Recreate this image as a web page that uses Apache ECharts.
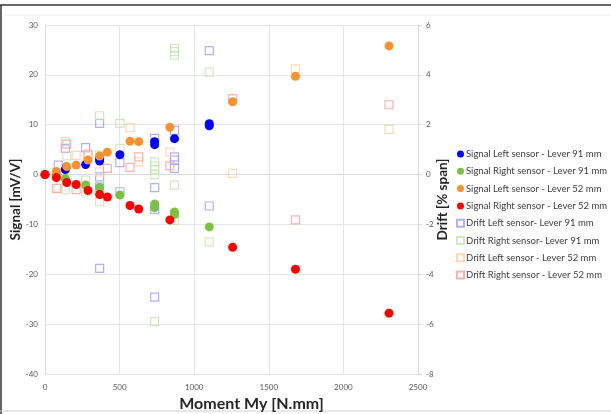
<!DOCTYPE html>
<html><head><meta charset="utf-8">
<script src="https://cdn.jsdelivr.net/npm/echarts@6/dist/echarts.min.js"></script>
<style>html,body{margin:0;padding:0;background:#fff;}#c{width:611px;height:414px;}</style>
</head><body><div id="c"></div>
<script>
// Moment My [N.mm], value pairs
const sigLeft91 = [[0,0],[136,1.0],[143,1.5],[272,2.0],[366,2.7],[366,3.1],[502,4.0],[735,6.0],[735,6.6],[868,7.2],[1101,9.8],[1101,10.2]];
const sigRight91 = [[0,0],[76,-0.2],[136,-0.8],[272,-2.1],[366,-2.6],[502,-4.1],[735,-5.9],[735,-6.6],[868,-7.5],[868,-8.0],[1101,-10.5]];
const sigLeft52 = [[0,0],[76,0.6],[146,1.6],[209,1.9],[288,2.9],[366,3.7],[418,4.5],[570,6.7],[628,6.6],[837,9.5],[1258,14.6],[1679,19.7],[2306,25.8]];
const sigRight52 = [[0,0],[76,-0.6],[146,-1.6],[209,-2.0],[288,-3.2],[366,-4.0],[418,-4.5],[570,-6.2],[628,-6.9],[837,-9.1],[1258,-14.6],[1679,-19.0],[2306,-27.8]];
const driftLeft91 = [[89,0.38],[136,1.05],[272,1.08],[366,2.05],[366,-0.09],[366,-0.49],[366,-3.76],[502,0.48],[502,-0.69],[735,1.45],[735,-0.52],[735,-1.4],[735,-4.92],[868,1.77],[868,0.71],[868,0.58],[868,0.25],[1101,4.97],[1101,-1.26]];
const driftRight91 = [[89,-0.55],[136,1.32],[136,-0.6],[272,-0.22],[272,-0.69],[366,2.36],[366,0.78],[366,-1.09],[502,2.05],[502,1.05],[735,0.51],[735,0.35],[735,0.21],[735,0],[735,-5.9],[868,5.06],[868,4.93],[868,4.79],[868,-0.42],[868,-1.85],[1101,4.11],[1101,-2.7]];
const driftLeft52 = [[76,0.07],[146,0.75],[209,0.77],[288,0.75],[366,0.11],[570,1.88],[628,0.51],[837,0.9],[1258,0.05],[1679,4.24],[2306,1.81]];
const driftRight52 = [[76,-0.55],[146,1.22],[209,-0.6],[288,0.82],[418,0.25],[570,0.29],[628,0.71],[837,0.35],[1258,3.05],[1679,-1.82],[2306,2.8]];

const names = ['Signal Left sensor - Lever 91 mm','Signal Right sensor - Lever 91 mm','Signal Left sensor - Lever 52 mm','Signal Right sensor - Lever 52 mm','Drift Left sensor- Lever 91 mm','Drift Right sensor- Lever 91 mm','Drift Left sensor - Lever 52 mm','Drift Right sensor - Lever 52 mm'];
const fillColors = ['#0000ff','#7cc242','#f7932e','#ff0000'];
const driftColors = ['#9c9cff','#c6e3b0','#fbd0a8','#ff9e9e'];

const FONT = 'Lato';
const chart = echarts.init(document.getElementById('c'));
const sig = [sigLeft91, sigRight91, sigLeft52, sigRight52];
const dr = [driftLeft91, driftRight91, driftLeft52, driftRight52];
const series = [];
sig.forEach((d,i)=>series.push({name:names[i],type:'scatter',yAxisIndex:0,symbol:'circle',symbolSize:9,data:d,itemStyle:{color:fillColors[i],opacity:1},z:3}));
dr.forEach((d,i)=>series.push({name:names[4+i],type:'scatter',yAxisIndex:1,symbol:'rect',symbolSize:8,data:d,itemStyle:{color:'rgba(255,255,255,0)',borderColor:driftColors[i],borderWidth:1.2},z:2}));

chart.setOption({
  animation:false,
  backgroundColor:'#ffffff',
  textStyle:{fontFamily:FONT},
  grid:{left:45,right:193,top:25,bottom:40,containLabel:false,outerBoundsMode:'none'},
  legend:{orient:'vertical',left:451,top:143,itemWidth:7,itemHeight:7,itemGap:5.3,
    textStyle:{fontSize:9.5,color:'#404040',fontFamily:FONT,padding:[0,0,0,-3],lineHeight:12},
    data:names.map((n,i)=>({name:n,icon:i<4?'circle':'rect'}))},
  xAxis:{type:'value',min:0,max:2500,interval:500,
    name:'Moment My [N.mm]',nameLocation:'middle',nameGap:20,
    nameTextStyle:{fontSize:16,fontWeight:'bold',color:'#262626',padding:[0,0,0,40]},
    axisLine:{show:true,lineStyle:{color:'#d9d9d9'}},axisTick:{show:false},
    axisLabel:{fontSize:8,color:'#595959',margin:9,formatter:v=>String(v)},
    splitLine:{show:true,lineStyle:{color:'#e6e6e6'}}},
  yAxis:[{type:'value',min:-40,max:30,interval:10,position:'left',
    name:'Signal [mV/V]',nameLocation:'middle',nameGap:22,nameMoveOverlap:false,
    nameTextStyle:{fontSize:13.5,fontWeight:'bold',color:'#262626'},
    axisLine:{show:true,lineStyle:{color:'#d9d9d9'}},axisTick:{show:false},
    axisLabel:{fontSize:8,color:'#595959',margin:7},
    splitLine:{show:true,lineStyle:{color:'#e6e6e6'}}},
   {type:'value',min:-8,max:6,interval:2,position:'right',
    name:'Drift [% span]',nameLocation:'middle',nameGap:18,nameMoveOverlap:false,
    nameTextStyle:{fontSize:13.5,fontWeight:'bold',color:'#262626'},
    axisLine:{show:true,lineStyle:{color:'#d9d9d9'}},axisTick:{show:true,length:4,lineStyle:{color:'#d9d9d9'}},
    axisLabel:{fontSize:8,color:'#595959',margin:8},
    splitLine:{show:false}}],
  graphic:[
    {type:'line',shape:{x1:0,y1:5,x2:611,y2:5},style:{stroke:'#333',lineWidth:1.5},silent:true},
    {type:'line',shape:{x1:1,y1:5,x2:1,y2:414},style:{stroke:'#333',lineWidth:1.5},silent:true},
    {type:'line',shape:{x1:4,y1:15,x2:611,y2:15},style:{stroke:'#eeeeee',lineWidth:1},silent:true},
    {type:'line',shape:{x1:0,y1:411,x2:611,y2:411},style:{stroke:'#d0d0d0',lineWidth:1},silent:true}
  ],
  series:series
});
</script></body></html>
